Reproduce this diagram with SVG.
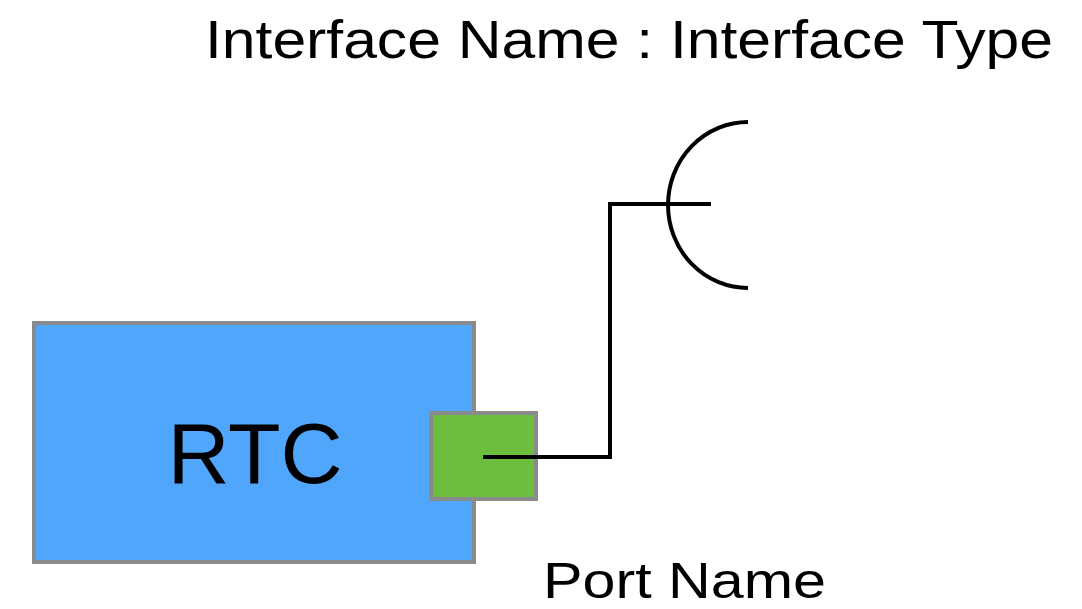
<svg xmlns="http://www.w3.org/2000/svg" width="1082" height="609" viewBox="0 0 1082 609">
<style>
.lbl{font-family:"Liberation Sans","Noto Sans CJK JP",sans-serif;fill:#000}
.wire{fill:none;stroke:#000;stroke-width:4}
</style>
<rect width="1082" height="609" fill="#fff"/>
<g id="rtc">
<rect x="34" y="323" width="440" height="239" fill="#50a6fa" stroke="#888a8c" stroke-width="4"/>
<text class="lbl" x="255" y="483" font-size="86" text-anchor="middle">RTC</text>
</g>
<g id="port">
<rect x="431" y="413" width="105" height="86" fill="#6dbd3f" stroke="#888a8c" stroke-width="4"/>
<text class="lbl" x="543" y="598" font-size="50" textLength="283" lengthAdjust="spacingAndGlyphs">Port Name</text>
</g>
<g id="interface">
<path class="wire" d="M748,122 A80,83 0 0 0 748,288"/>
<text class="lbl" x="205" y="58" font-size="54" textLength="848" lengthAdjust="spacingAndGlyphs">Interface Name : Interface Type</text>
</g>
<g id="connectors">
<path class="wire" d="M483,457 H610 V204 H711"/>
</g>
</svg>
